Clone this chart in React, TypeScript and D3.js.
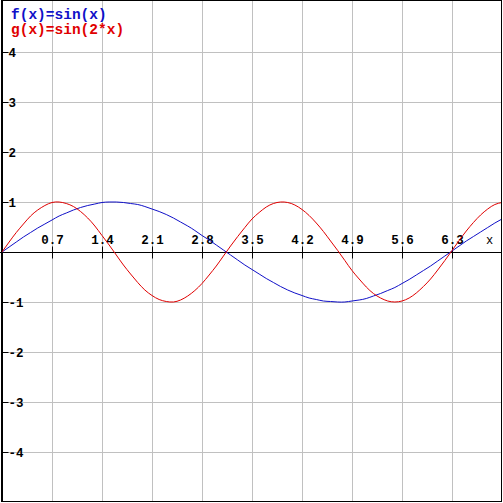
import React from 'react'
import * as d3 from 'd3'

// sampled every 0.1 from 0 to 7
const xs = d3.range(0, 71).map(i => i / 10)
const fValues = [
  0.00, 0.10, 0.20, 0.30, 0.39, 0.48, 0.56, 0.64, 0.72, 0.78,
  0.84, 0.89, 0.93, 0.96, 0.99, 1.00, 1.00, 0.99, 0.97, 0.95,
  0.91, 0.86, 0.81, 0.75, 0.68, 0.60, 0.52, 0.43, 0.33, 0.24,
  0.14, 0.04, -0.06, -0.16, -0.26, -0.35, -0.44, -0.53, -0.61, -0.69,
  -0.76, -0.82, -0.87, -0.92, -0.95, -0.98, -0.99, -1.00, -1.00, -0.98,
  -0.96, -0.93, -0.88, -0.83, -0.77, -0.71, -0.63, -0.55, -0.46, -0.37,
  -0.28, -0.18, -0.08, 0.02, 0.12, 0.22, 0.31, 0.40, 0.49, 0.58, 0.66,
]
const gValues = [
  0.00, 0.20, 0.39, 0.56, 0.72, 0.84, 0.93, 0.99, 1.00, 0.97,
  0.91, 0.81, 0.68, 0.52, 0.33, 0.14, -0.06, -0.26, -0.44, -0.61,
  -0.76, -0.87, -0.95, -0.99, -1.00, -0.96, -0.88, -0.77, -0.63, -0.46,
  -0.28, -0.08, 0.12, 0.31, 0.49, 0.66, 0.79, 0.90, 0.97, 1.00,
  0.99, 0.94, 0.85, 0.73, 0.58, 0.41, 0.22, 0.03, -0.17, -0.37,
  -0.54, -0.70, -0.83, -0.92, -0.98, -1.00, -0.98, -0.92, -0.82, -0.69,
  -0.54, -0.36, -0.17, 0.03, 0.23, 0.42, 0.59, 0.74, 0.86, 0.95, 0.99,
]
const xTicks = [0.7, 1.4, 2.1, 2.8, 3.5, 4.2, 4.9, 5.6, 6.3]
const yTicks = [-4, -3, -2, -1, 1, 2, 3, 4]
const series = [
  { label: 'f(x)=sin(x)', values: fValues, color: '#1010c8' },
  { label: 'g(x)=sin(2*x)', values: gValues, color: '#e00000' },
]

export default function App() {
  const size = 503
  const x = d3.scaleLinear().domain([0, 7]).range([2, 502])
  const y = d3.scaleLinear().domain([-5, 5]).range([502, 2])
  const line = d3.line<number>()
    .x((_, i) => x(xs[i]))
    .y(d => y(d))
    .curve(d3.curveNatural)

  const mono = '"Liberation Mono", "DejaVu Sans Mono", monospace'
  const x0 = Math.round(x(0)) + 0.5
  const y0 = Math.round(y(0)) + 0.5

  return (
    <svg width={size} height={size} style={{ position: 'fixed', left: 0, top: 0, background: '#fff' }}>
      {/* grid */}
      {xTicks.map(t => (
        <line key={'gx' + t} x1={Math.round(x(t)) + 0.5} x2={Math.round(x(t)) + 0.5} y1={0} y2={502} stroke="#c0c0c0" />
      ))}
      {yTicks.map(t => (
        <line key={'gy' + t} x1={2} x2={502} y1={Math.round(y(t)) + 0.5} y2={Math.round(y(t)) + 0.5} stroke="#c0c0c0" />
      ))}

      {/* axes */}
      <line x1={0} x2={502} y1={y0} y2={y0} stroke="#000" />
      <line x1={x0} x2={x0} y1={0} y2={502} stroke="#000" />
      {xTicks.map(t => (
        <g key={'tx' + t} transform={`translate(${Math.round(x(t)) + 0.5},${y0})`}>
          <line y1={-6} y2={6} stroke="#000" />
          <text y={-9} textAnchor="middle" fontFamily={mono} fontWeight="bold" fontSize={12.5} fill="#000">{t.toFixed(1)}</text>
        </g>
      ))}
      {yTicks.map(t => (
        <g key={'ty' + t} transform={`translate(${x0},${Math.round(y(t)) + 0.5})`}>
          <line x1={0} x2={6} stroke="#000" />
          <text x={6} y={4} fontFamily={mono} fontWeight="bold" fontSize={12.5} fill="#000">{t < 0 ? '-' + Math.abs(t) : t}</text>
        </g>
      ))}
      <text x={486} y={244} fontFamily={mono} fontSize={12} fill="#000">x</text>

      {/* curves */}
      {series.map(s => (
        <path key={s.label} d={line(s.values) || ''} fill="none" stroke={s.color} strokeWidth={1} />
      ))}

      {/* legend */}
      {series.map((s, i) => (
        <text key={'lg' + s.label} x={11} y={19 + i * 15} fontFamily={mono} fontWeight="bold" fontSize={14.5} fill={s.color}>{s.label}</text>
      ))}

      {/* frame */}
      <rect x={1.5} y={0.5} width={500} height={501} fill="none" stroke="#000" />
    </svg>
  )
}
